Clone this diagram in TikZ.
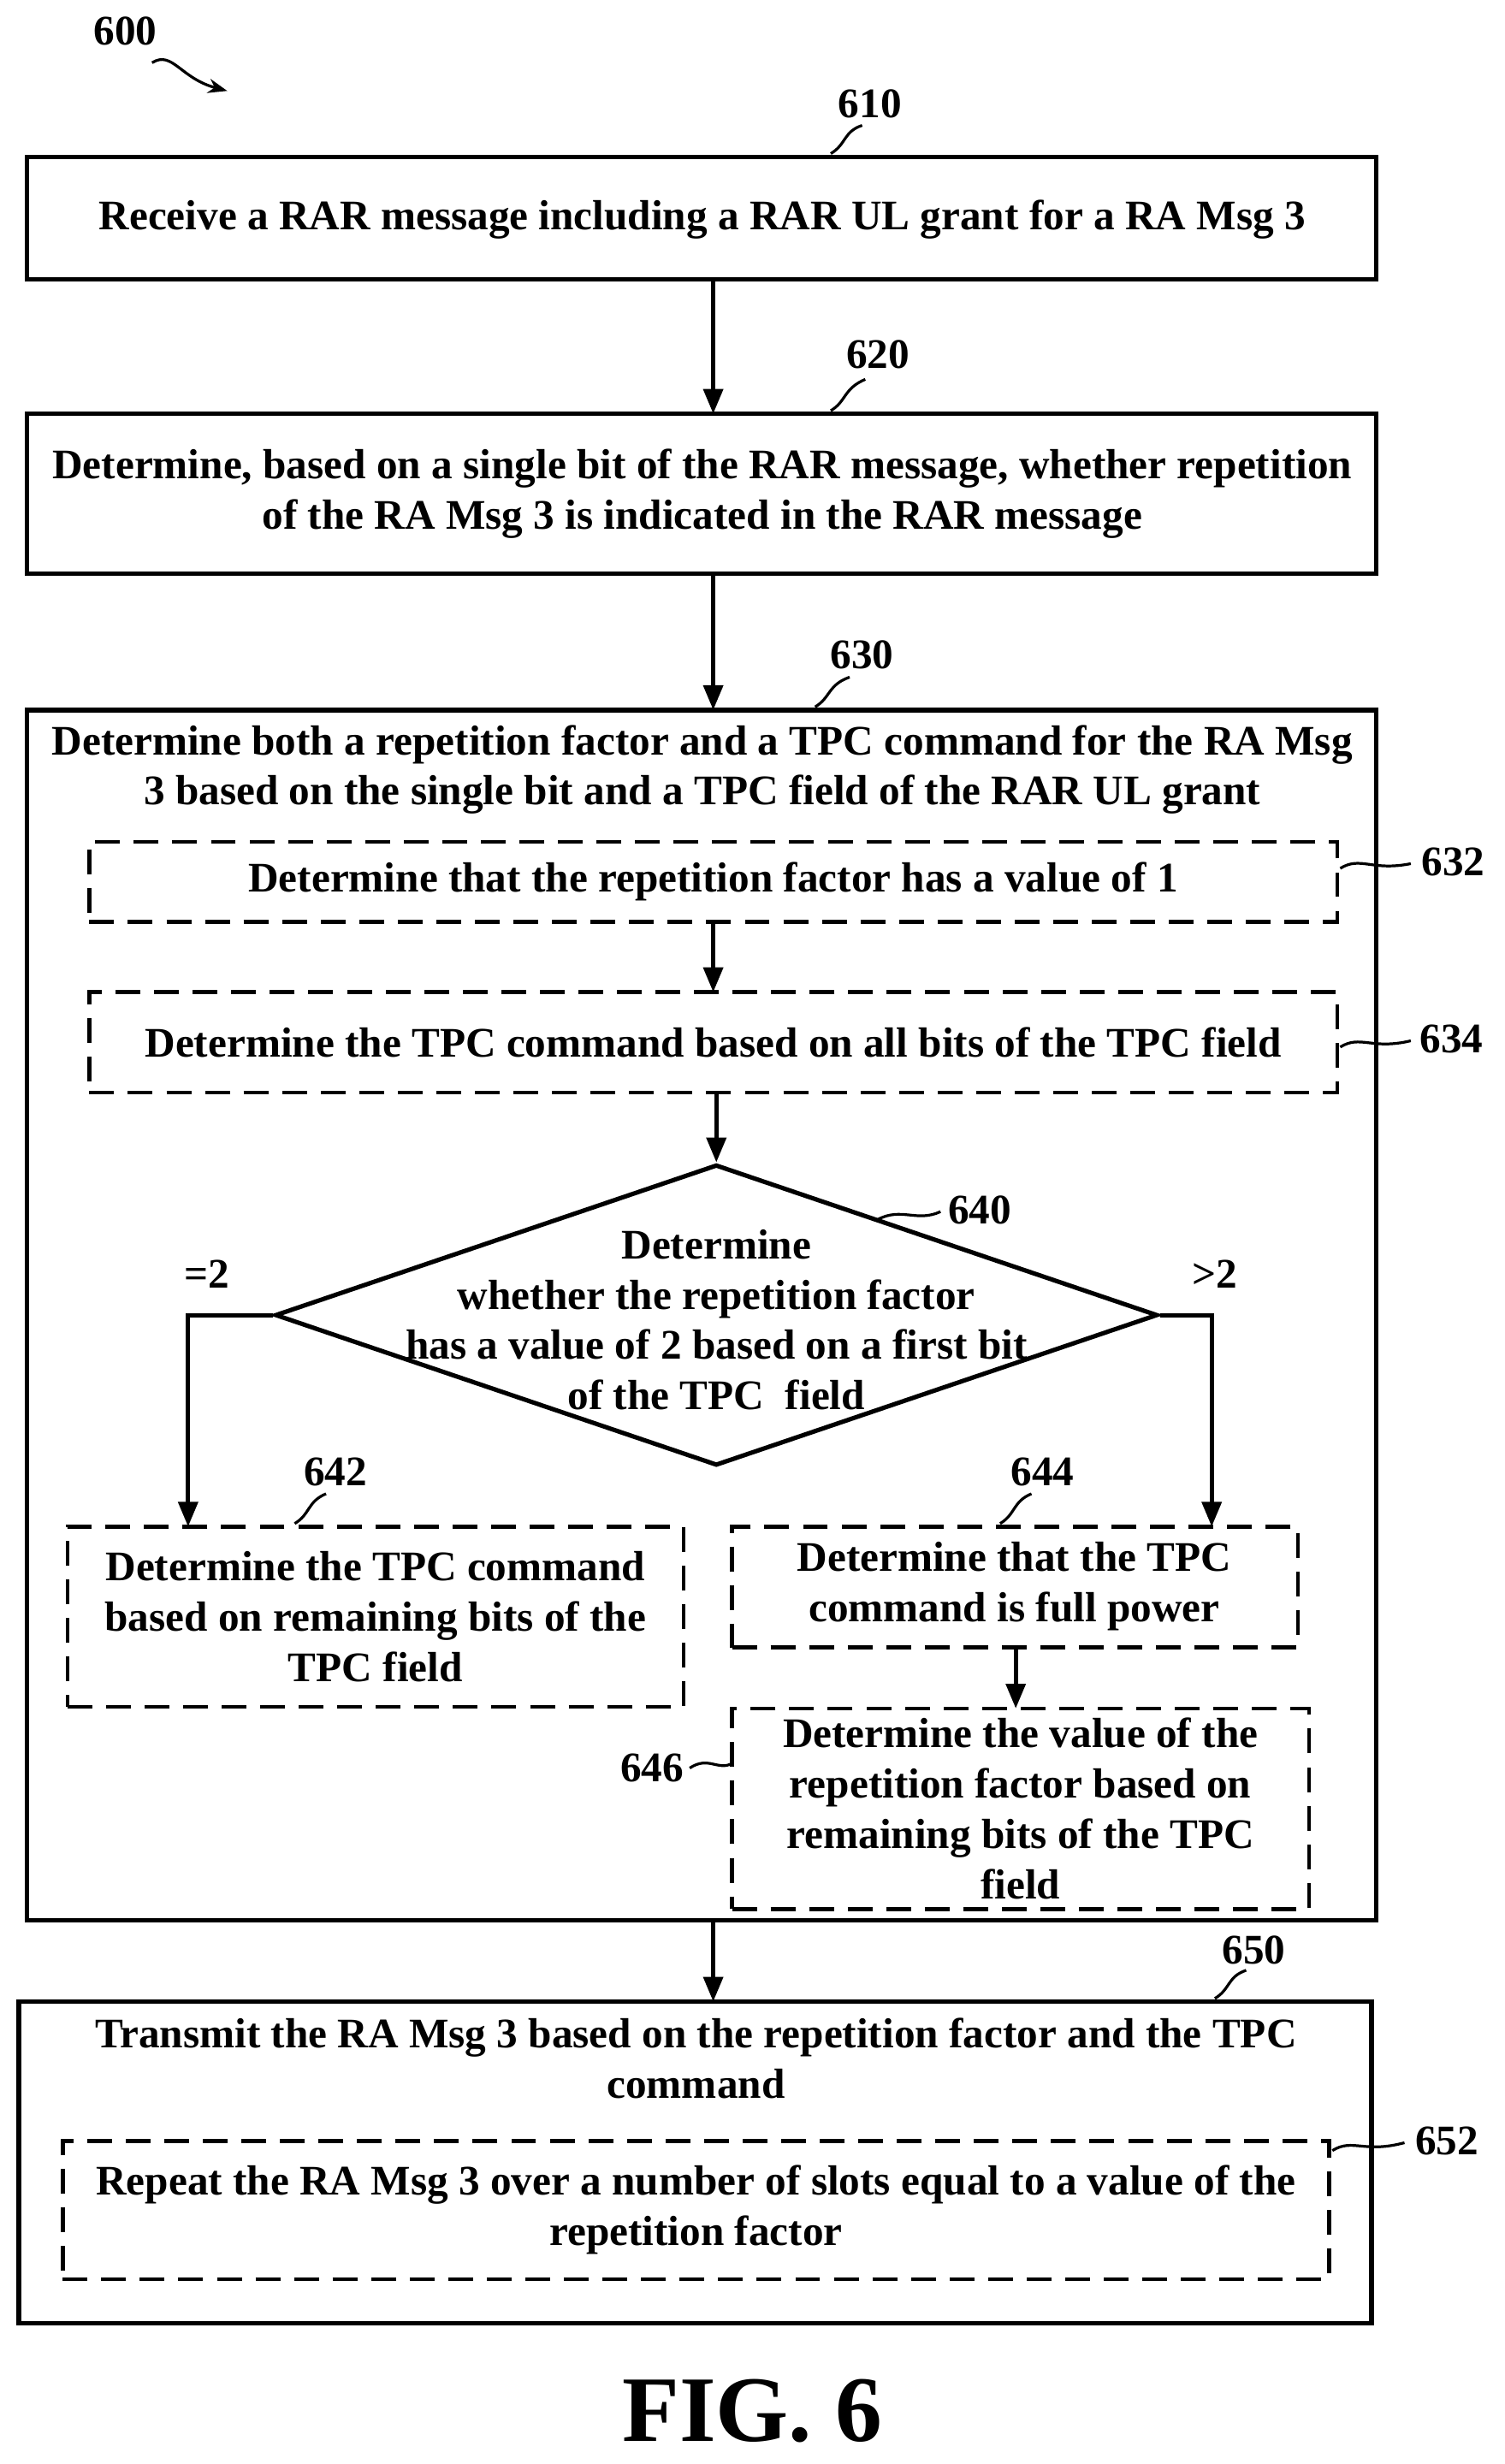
\documentclass[tikz,border=0pt]{standalone}
\usepackage{fontspec}
\setmainfont{Liberation Serif}
\usetikzlibrary{shapes.geometric,arrows.meta}
\tikzset{
  every node/.style={align=center},
  box/.style={draw,line width=1.6pt,inner sep=0pt},
  dbox/.style={draw,line width=1.4pt,dash pattern=on 9pt off 5pt,inner sep=0pt},
  flow/.style={-{Triangle[length=9pt,width=7pt]},line width=1.6pt},
  tag/.style={line width=1pt}
}
\newcommand{\bx}[6]{% name, style, x1, y1, x2, y2
  \node[#2,minimum width={(#5-#3)*0.02cm},minimum height={(#6-#4)*0.02cm}] (#1) at ({(#3+#5)/2},{(#4+#6)/2}) {};
}
\begin{document}
\begin{tikzpicture}[x=0.02cm,y=-0.02cm,font=\fontsize{15.3}{18.3}\selectfont\bfseries]
\useasboundingbox (0,0) rectangle (960,1572);

% Title
\node (t600) at (80,20) {600};
\draw[tag,-{Stealth[length=7pt]}] (97,40) .. controls (110,32) and (115,50) .. (145,58);

% Boxes
\bx{b610}{box}{17}{100}{878}{178}
\node at (448,140) {Receive a RAR message including a RAR UL grant for a RA Msg 3};
\bx{b620}{box}{17}{264}{878}{366}
\node at (448,315) {Determine, based on a single bit of the RAR message, whether repetition\\of the RA Msg 3 is indicated in the RAR message};
\bx{b630}{box}{17}{453}{878}{1225}
\node at (448,491) {Determine both a repetition factor and a TPC command for the RA Msg\\3 based on the single bit and a TPC field of the RAR UL grant};
\bx{b632}{dbox}{57}{537}{853}{588}
\node at (b632) {Determine that the repetition factor has a value of 1};
\bx{b634}{dbox}{57}{633}{853}{697}
\node at (b634) {Determine the TPC command based on all bits of the TPC field};
\node[draw,diamond,line width=1.6pt,minimum width=563*0.02cm,minimum height=192*0.02cm,aspect=2.93,inner sep=0pt] (d640) at (457,839) {};
\node at (457,842) {Determine\\whether the repetition factor\\has a value of 2 based on a first bit\\of the TPC\ \ field};
\bx{b642}{dbox}{43}{974}{436}{1089}
\node at (b642) {Determine the TPC command\\based on remaining bits of the\\TPC field};
\bx{b644}{dbox}{467}{974}{828}{1051}
\node at (647,1012) {Determine that the TPC\\command is full power};
\bx{b646}{dbox}{467}{1090}{835}{1218}
\node at (651,1154) {Determine the value of the\\repetition factor based on\\remaining bits of the TPC\\field};
\bx{b650}{box}{12}{1277}{875}{1482}
\node at (444,1313) {Transmit the RA Msg 3 based on the repetition factor and the TPC\\command};
\bx{b652}{dbox}{40}{1366}{848}{1454}
\node at (b652) {Repeat the RA Msg 3 over a number of slots equal to a value of the\\repetition factor};

% Connectors
\draw[flow] (455,178) -- (455,264);
\draw[flow] (455,366) -- (455,453);
\draw[flow] (455,588) -- (455,633);
\draw[flow] (457,697) -- (d640.north);
\draw[flow] (d640.west) -- (120,839) -- (120,974);
\draw[flow] (d640.east) -- (773,839) -- (773,974);
\draw[flow] (648,1051) -- (648,1090);
\draw[flow] (455,1225) -- (455,1277);
\node at (132,813) {=2};
\node at (775,813) {>2};

% Reference numerals
\node (n610) at (555,66) {610};
\draw[tag] (530,98) .. controls (540,92) and (538,84) .. (550,80);
\node (n620) at (560,226) {620};
\draw[tag] (530,262) .. controls (540,256) and (538,248) .. (552,242);
\node (n630) at (550,418) {630};
\draw[tag] (520,451) .. controls (530,445) and (528,437) .. (542,432);
\node (n632) at (927,550) {632};
\draw[tag] (855,554) .. controls (868,546) and (875,556) .. (900,551);
\node (n634) at (926,663) {634};
\draw[tag] (855,668) .. controls (868,660) and (875,670) .. (900,664);
\node (n640) at (625,772) {640};
\draw[tag] (560,778) .. controls (575,770) and (585,780) .. (600,773);
\node (n642) at (214,939) {642};
\draw[tag] (188,972) .. controls (198,966) and (196,958) .. (208,953);
\node (n644) at (665,939) {644};
\draw[tag] (638,972) .. controls (648,966) and (646,958) .. (658,953);
\node (n646) at (416,1128) {646};
\draw[tag] (440,1128) .. controls (452,1120) and (458,1130) .. (467,1125);
\node (n650) at (800,1244) {650};
\draw[tag] (775,1275) .. controls (785,1269) and (783,1261) .. (795,1257);
\node (n652) at (923,1366) {652};
\draw[tag] (850,1372) .. controls (863,1364) and (870,1374) .. (896,1367);

\node[font=\fontsize{34}{38}\selectfont\bfseries] (fig) at (480,1538) {FIG. 6};
\end{tikzpicture}
\end{document}
